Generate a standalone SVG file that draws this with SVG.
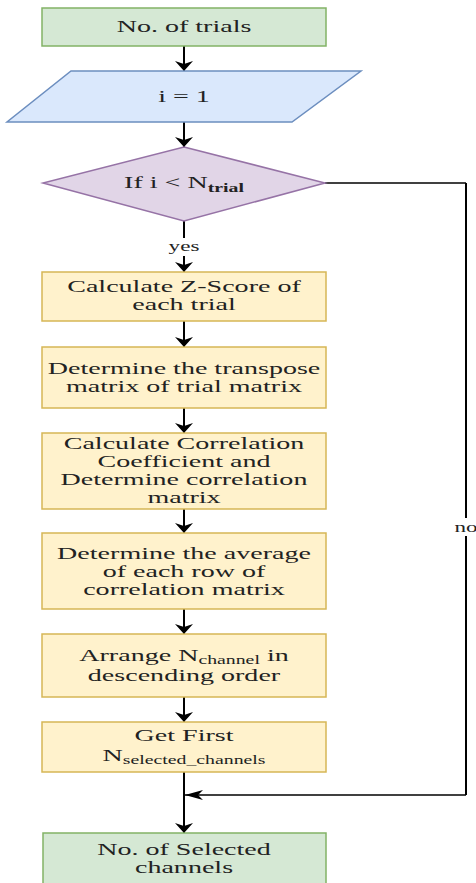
<svg xmlns="http://www.w3.org/2000/svg" width="476" height="883" viewBox="0 0 476 883">
<defs>
<marker id="aV" viewBox="0 -9 10 18" refX="10" refY="0" markerWidth="10" markerHeight="18" markerUnits="userSpaceOnUse" orient="auto">
<path d="M0,-9 L10,0 L0,9 L3,0 z" fill="#000"/>
</marker>
<marker id="aH" viewBox="0 -5 18 10" refX="18" refY="0" markerWidth="18" markerHeight="10" markerUnits="userSpaceOnUse" orient="auto">
<path d="M0,-5 L18,0 L0,5 L5,0 z" fill="#000"/>
</marker>
<style>
text{font-family:'Liberation Serif','DejaVu Serif',serif;font-size:17px;fill:#222;text-anchor:middle}
.s{font-size:12px}
.g{fill:#d5e8d4;stroke:#82b366;stroke-width:1.5}
.b{fill:#dae8fc;stroke:#6c8ebf;stroke-width:1.5}
.p{fill:#e1d5e7;stroke:#9673a6;stroke-width:1.5}
.y{fill:#fff2cc;stroke:#d6b656;stroke-width:1.5}
.cv{stroke:#000;stroke-width:2;fill:none}
.ch{stroke:#000;stroke-width:1.3;fill:none}
</style>
</defs>
<g id="connectors">
<line class="cv" x1="184" y1="46" x2="184" y2="71" marker-end="url(#aV)"/>
<line class="cv" x1="184" y1="122" x2="184" y2="147" marker-end="url(#aV)"/>
<line class="cv" x1="184" y1="221" x2="184" y2="272" marker-end="url(#aV)"/>
<line class="cv" x1="184" y1="321" x2="184" y2="347" marker-end="url(#aV)"/>
<line class="cv" x1="184" y1="408" x2="184" y2="433" marker-end="url(#aV)"/>
<line class="cv" x1="184" y1="509" x2="184" y2="533" marker-end="url(#aV)"/>
<line class="cv" x1="184" y1="609" x2="184" y2="634" marker-end="url(#aV)"/>
<line class="cv" x1="184" y1="697" x2="184" y2="722" marker-end="url(#aV)"/>
<line class="cv" x1="184" y1="772" x2="184" y2="833" marker-end="url(#aV)"/>
<polyline class="ch" points="325,183 466,183"/>
<line class="cv" x1="466" y1="183" x2="466" y2="795"/>
<line class="ch" x1="466" y1="795" x2="185" y2="795" marker-end="url(#aH)"/>
<rect x="166" y="238" width="36" height="18" fill="#fff"/>
<text transform="translate(184,251) scale(1.65,1)" style="font-size:14px">yes</text>
<rect x="452" y="518" width="24" height="18" fill="#fff"/>
<text transform="translate(466,532) scale(1.65,1)" style="font-size:14px">no</text>
</g>
<g id="n1">
<rect class="g" x="42" y="8" width="284" height="38"/>
<text transform="translate(184,32) scale(1.65,1)">No. of trials</text>
</g>
<g id="n2">
<polygon class="b" points="71,71 361,71 292,122 7,122"/>
<text transform="translate(184,102) scale(1.65,1)">i = 1</text>
</g>
<g id="n3">
<polygon class="p" points="184,147 325,183 184,221 43,183"/>
<text transform="translate(184,188) scale(1.65,1)">If i &lt; N<tspan class="s" dy="4" font-weight="bold">trial</tspan></text>
</g>
<g id="n4">
<rect class="y" x="42" y="272" width="284" height="49"/>
<text transform="translate(184,292) scale(1.65,1)">Calculate Z-Score of</text>
<text transform="translate(184,310) scale(1.65,1)">each trial</text>
</g>
<g id="n5">
<rect class="y" x="42" y="347" width="284" height="61"/>
<text transform="translate(184,374) scale(1.65,1)">Determine the transpose</text>
<text transform="translate(184,392) scale(1.65,1)">matrix of trial matrix</text>
</g>
<g id="n6">
<rect class="y" x="42" y="433" width="284" height="76"/>
<text transform="translate(184,449) scale(1.65,1)">Calculate Correlation</text>
<text transform="translate(184,467) scale(1.65,1)">Coefficient and</text>
<text transform="translate(184,485) scale(1.65,1)">Determine correlation</text>
<text transform="translate(184,503) scale(1.65,1)">matrix</text>
</g>
<g id="n7">
<rect class="y" x="42" y="533" width="284" height="76"/>
<text transform="translate(184,559) scale(1.65,1)">Determine the average</text>
<text transform="translate(184,577) scale(1.65,1)">of each row of</text>
<text transform="translate(184,595) scale(1.65,1)">correlation matrix</text>
</g>
<g id="n8">
<rect class="y" x="42" y="634" width="284" height="63"/>
<text transform="translate(184,661) scale(1.65,1)">Arrange N<tspan class="s" dy="3">channel</tspan><tspan dy="-3"> in</tspan></text>
<text transform="translate(184,681) scale(1.65,1)">descending order</text>
</g>
<g id="n9">
<rect class="y" x="42" y="722" width="284" height="50"/>
<text transform="translate(184,741) scale(1.65,1)">Get First</text>
<text transform="translate(184,761) scale(1.65,1)">N<tspan class="s" dy="3">selected_channels</tspan></text>
</g>
<g id="n10">
<rect class="g" x="43" y="833" width="283" height="52"/>
<text transform="translate(184,855) scale(1.65,1)">No. of Selected</text>
<text transform="translate(184,873) scale(1.65,1)">channels</text>
</g>
</svg>
